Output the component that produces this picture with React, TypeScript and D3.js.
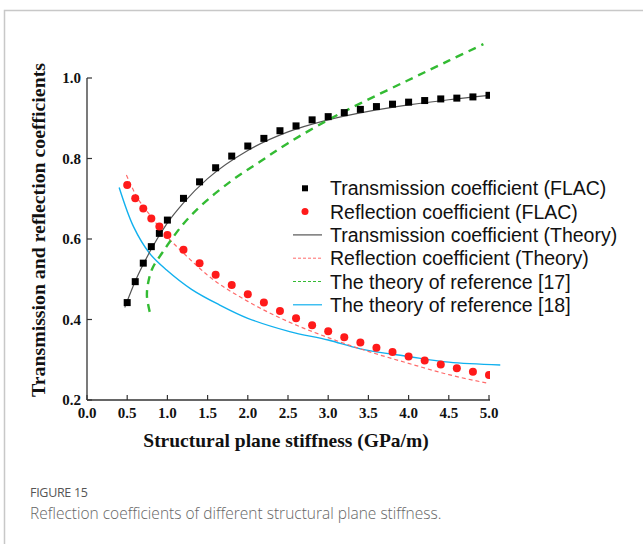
import React from "react";
import * as d3 from "d3";

const xTicks = [0.0, 0.5, 1.0, 1.5, 2.0, 2.5, 3.0, 3.5, 4.0, 4.5, 5.0];
const yTicks = [0.2, 0.4, 0.6, 0.8, 1.0];

const flacX = [0.5, 0.6, 0.7, 0.8, 0.9, 1.0, 1.2, 1.4, 1.6, 1.8, 2.0, 2.2, 2.4, 2.6, 2.8, 3.0, 3.2, 3.4, 3.6, 3.8, 4.0, 4.2, 4.4, 4.6, 4.8, 5.0];
const transFlac = [0.442, 0.494, 0.540, 0.581, 0.614, 0.647, 0.701, 0.742, 0.777, 0.806, 0.831, 0.850, 0.869, 0.881, 0.896, 0.904, 0.914, 0.922, 0.929, 0.935, 0.940, 0.944, 0.948, 0.950, 0.953, 0.957];
const reflFlac = [0.734, 0.701, 0.676, 0.651, 0.631, 0.610, 0.573, 0.540, 0.511, 0.486, 0.463, 0.442, 0.421, 0.403, 0.386, 0.371, 0.356, 0.343, 0.330, 0.319, 0.308, 0.298, 0.288, 0.279, 0.270, 0.262];

const transTheoryX = [0.47, 0.6, 0.8, 1.0, 1.2, 1.5, 2.0, 2.5, 3.0, 3.5, 4.0, 4.5, 5.0];
const transTheoryY = [0.430, 0.495, 0.575, 0.640, 0.690, 0.750, 0.820, 0.866, 0.896, 0.917, 0.933, 0.946, 0.957];

const reflTheoryX = [0.49, 0.6, 0.8, 1.0, 1.2, 1.5, 2.0, 2.5, 3.0, 3.4, 4.0, 4.5, 5.0];
const reflTheoryY = [0.759, 0.712, 0.655, 0.605, 0.565, 0.510, 0.445, 0.395, 0.355, 0.327, 0.291, 0.263, 0.241];

const ref17X = [0.78, 0.745, 0.77, 0.82, 0.93, 1.03, 1.2, 1.43, 1.8, 2.15, 2.5, 3.0, 3.4, 4.0, 4.5, 4.93];
const ref17Y = [0.419, 0.460, 0.500, 0.530, 0.564, 0.593, 0.638, 0.685, 0.745, 0.792, 0.838, 0.896, 0.937, 0.995, 1.043, 1.084];

const ref18X = [0.40, 0.58, 0.78, 0.99, 1.3, 1.65, 2.0, 2.52, 3.0, 3.4, 4.0, 4.5, 5.14];
const ref18Y = [0.728, 0.630, 0.564, 0.523, 0.475, 0.436, 0.403, 0.370, 0.349, 0.327, 0.308, 0.294, 0.287];

const legendLabels = [
  "Transmission coefficient (FLAC)",
  "Reflection coefficient (FLAC)",
  "Transmission coefficient (Theory)",
  "Reflection coefficient (Theory)",
  "The theory of reference [17]",
  "The theory of reference [18]",
];

const BLACK = "#000";
const RED = "#ff1a1a";
const LINE_BLACK = "#555";
const RED_DASH = "#ff6b6b";
const GREEN = "#33bb33";
const BLUE = "#11b0ee";

export default function App() {
  const x = d3.scaleLinear().domain([0, 5]).range([87, 489]);
  const y = d3.scaleLinear().domain([0.2, 1.0]).range([400, 78]);
  const serif = "'Liberation Serif', 'Times New Roman', serif";
  const sans = "'Liberation Sans', Arial, sans-serif";

  const mk = (xs: number[], ys: number[]) => xs.map((v, i) => [v, ys[i]] as [number, number]);
  const smooth = d3.line<[number, number]>().x((d) => x(d[0])).y((d) => y(d[1])).curve(d3.curveMonotoneX);
  const smoothCR = d3.line<[number, number]>().x((d) => x(d[0])).y((d) => y(d[1])).curve(d3.curveCatmullRom.alpha(0.5));

  const legendX = 293;
  const legendY0 = 188.3;
  const legendDy = 23.3;

  return (
    <svg width={643} height={544} style={{ position: "absolute", left: 0, top: 0, background: "#fff" }}>
      <defs>
        <clipPath id="plotClip">
          <rect x={80} y={40} width={410} height={370} />
        </clipPath>
      </defs>
      {/* frame */}
      <path d="M4.5,560 L4.5,10.5 L660,10.5" fill="none" stroke="#c8c8c8" strokeWidth={1.5} />

      {/* axes */}
      <line x1={87} x2={87} y1={78} y2={400} stroke="#333" strokeWidth={1.3} />
      <line x1={87} x2={490} y1={400} y2={400} stroke="#333" strokeWidth={1.3} />
      {yTicks.map((t) => (
        <g key={"y" + t}>
          <line x1={87} x2={92} y1={y(t)} y2={y(t)} stroke="#333" strokeWidth={1.2} />
          <text x={81} y={y(t) + 5} textAnchor="end" fontFamily={serif} fontWeight="bold" fontSize={15} fill="#111">
            {t.toFixed(1)}
          </text>
        </g>
      ))}
      {xTicks.map((t) => (
        <g key={"x" + t}>
          <line x1={x(t)} x2={x(t)} y1={400} y2={395} stroke="#333" strokeWidth={1.2} />
          <text x={x(t)} y={418} textAnchor="middle" fontFamily={serif} fontWeight="bold" fontSize={15} fill="#111">
            {t.toFixed(1)}
          </text>
        </g>
      ))}
      <text x={286} y={447} textAnchor="middle" fontFamily={serif} fontWeight="bold" fontSize={19.5} fill="#111">
        Structural plane stiffness (GPa/m)
      </text>
      <text transform="translate(45,230) rotate(-90)" textAnchor="middle" fontFamily={serif} fontWeight="bold" fontSize={19.8} fill="#111">
        Transmission and reflection coefficients
      </text>

      {/* curves */}
      <path d={smoothCR(mk(ref18X, ref18Y)) || ""} fill="none" stroke={BLUE} strokeWidth={1.4} />
      <path d={smooth(mk(reflTheoryX, reflTheoryY)) || ""} fill="none" stroke={RED_DASH} strokeWidth={1.2} strokeDasharray="4,3" />
      <path d={smooth(mk(transTheoryX, transTheoryY)) || ""} fill="none" stroke={LINE_BLACK} strokeWidth={1.2} />
      <path d={smoothCR(mk(ref17X, ref17Y)) || ""} fill="none" stroke={GREEN} strokeWidth={2.4} strokeDasharray="8,6" />

      {/* markers */}
      <g clipPath="url(#plotClip)">
        {flacX.map((v, i) => (
          <rect key={"s" + i} x={x(v) - 3.5} y={y(transFlac[i]) - 3.5} width={7} height={7} fill={BLACK} />
        ))}
        {flacX.map((v, i) => (
          <circle key={"c" + i} cx={x(v)} cy={y(reflFlac[i])} r={4} fill={RED} />
        ))}
      </g>

      {/* legend */}
      {legendLabels.map((lab, i) => {
        const cy = legendY0 + i * legendDy;
        let sym: React.ReactNode = null;
        if (i === 0) sym = <rect x={305 - 3} y={cy - 3} width={6} height={6} fill={BLACK} />;
        else if (i === 1) sym = <circle cx={305} cy={cy} r={3.5} fill={RED} />;
        else if (i === 2) sym = <line x1={legendX} x2={legendX + 29} y1={cy} y2={cy} stroke={LINE_BLACK} strokeWidth={1.2} />;
        else if (i === 3) sym = <line x1={legendX} x2={legendX + 29} y1={cy} y2={cy} stroke={RED_DASH} strokeWidth={1} strokeDasharray="3,2" />;
        else if (i === 4) sym = <line x1={legendX} x2={legendX + 29} y1={cy} y2={cy} stroke={GREEN} strokeWidth={1} strokeDasharray="3,2" />;
        else sym = <line x1={legendX} x2={legendX + 29} y1={cy} y2={cy} stroke={BLUE} strokeWidth={1.2} />;
        return (
          <g key={"l" + i}>
            {sym}
            <text x={330} y={cy + 7} fontFamily={sans} fontSize={19.5} fill="#111">
              {lab}
            </text>
          </g>
        );
      })}

      {/* caption */}
      <text x={30} y={497} fontFamily="'Open Sans', 'Noto Sans', sans-serif" fontSize={12.5} fill="#555" letterSpacing={-0.3}>
        FIGURE 15
      </text>
      <text x={30} y={519} fontFamily="'Open Sans', 'Noto Sans', sans-serif" fontSize={15.5} fill="#666" fontWeight={300}>
        Reflection coefficients of different structural plane stiffness.
      </text>
    </svg>
  );
}
